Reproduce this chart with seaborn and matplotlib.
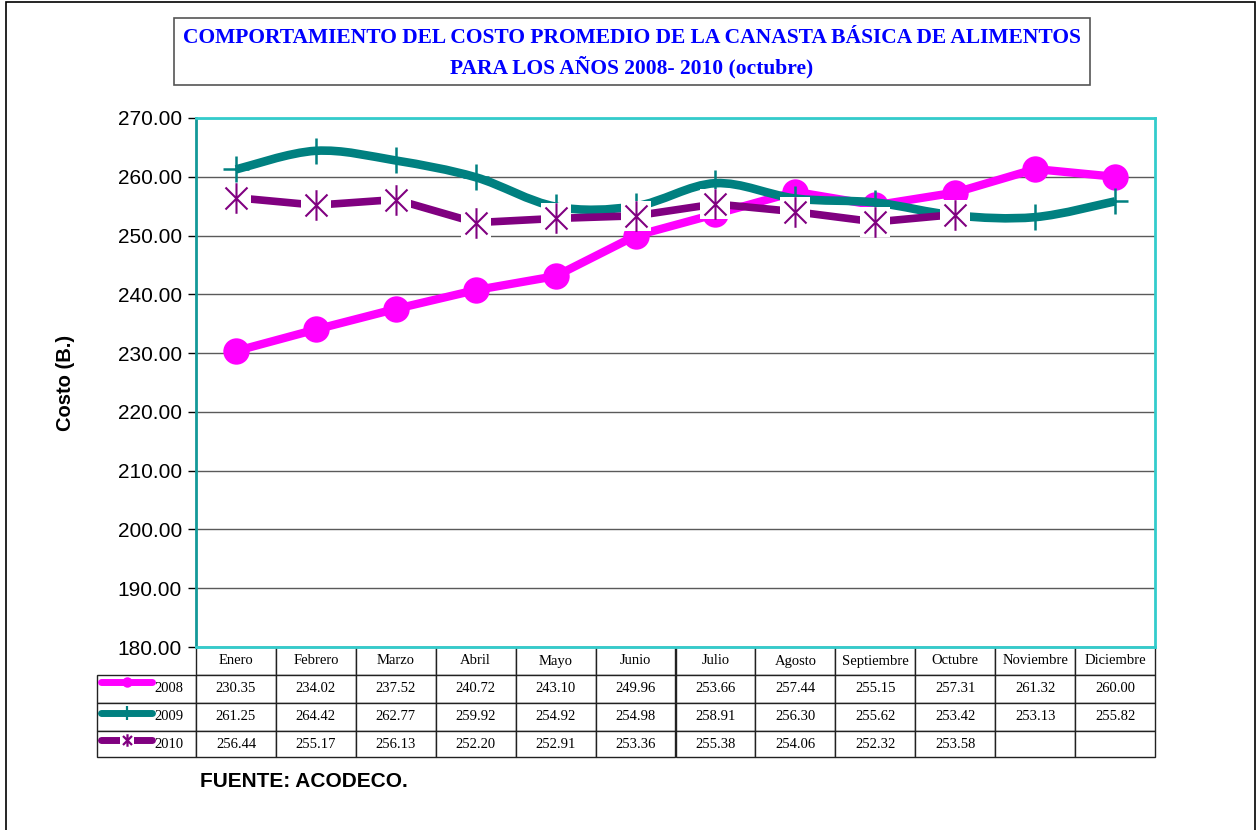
import numpy as np
import matplotlib
matplotlib.use("Agg")
import matplotlib.pyplot as plt
import seaborn as sns
from matplotlib.path import Path
from matplotlib.patches import PathPatch, Rectangle
from matplotlib.lines import Line2D
from matplotlib.table import Table

# ------------------------------------------------------------------
# DATOS (leídos de la tabla del gráfico)
# ------------------------------------------------------------------
meses = ["Enero", "Febrero", "Marzo", "Abril", "Mayo", "Junio", "Julio",
         "Agosto", "Septiembre", "Octubre", "Noviembre", "Diciembre"]
costo_2008 = [230.35, 234.02, 237.52, 240.72, 243.10, 249.96, 253.66,
              257.44, 255.15, 257.31, 261.32, 260.00]
costo_2009 = [261.25, 264.42, 262.77, 259.92, 254.92, 254.98, 258.91,
              256.30, 255.62, 253.42, 253.13, 255.82]
costo_2010 = [256.44, 255.17, 256.13, 252.20, 252.91, 253.36, 255.38,
              254.06, 252.32, 253.58]
anios = ["2008", "2009", "2010"]

C2008 = "#FF00FF"
C2009 = "#008080"
C2010 = "#800080"
SERIF = "Liberation Serif"
SANS = "Liberation Sans"

sns.set_theme(style="white")
plt.rcParams["font.family"] = [SANS, "DejaVu Sans"]
plt.rcParams.update({
    "text.color": "black",
    "axes.labelcolor": "black",
    "ytick.color": "black",
    "xtick.color": "black",
})

# marcador tipo asterisco (X con barra vertical)
asterisco = Path(
    [(0, -1), (0, 1), (-0.72, -0.72), (0.72, 0.72), (-0.72, 0.72), (0.72, -0.72)],
    [Path.MOVETO, Path.LINETO, Path.MOVETO, Path.LINETO, Path.MOVETO, Path.LINETO],
)


def curva_suave(x, y):
    """Camino Bezier suavizado (estilo Excel) que pasa por los puntos."""
    pts = np.column_stack([x, y]).astype(float)
    ext = np.vstack([pts[0], pts, pts[-1]])
    verts = [tuple(pts[0])]
    codes = [Path.MOVETO]
    for i in range(len(pts) - 1):
        p0, p1, p2, p3 = ext[i], ext[i + 1], ext[i + 2], ext[i + 3]
        c1 = p1 + (p2 - p0) / 6.0
        c2 = p2 - (p3 - p1) / 6.0
        verts += [tuple(c1), tuple(c2), tuple(p2)]
        codes += [Path.CURVE4] * 3
    return Path(verts, codes)


fig = plt.figure(figsize=(12.57, 8.30), dpi=100)
AX_W, AX_H = 959, 529
ax = fig.add_axes([196 / 1257, 1 - 647 / 830, AX_W / 1257, AX_H / 830])

x = np.arange(len(meses))
x10 = np.arange(len(costo_2010))

# 2008 - líneas rectas con círculos
sns.lineplot(x=x, y=costo_2008, ax=ax, color=C2008, linewidth=6,
             marker="o", markersize=19, markeredgewidth=0, zorder=3)

# 2009 - curva suavizada con cruces
ax.add_patch(PathPatch(curva_suave(x, costo_2009), facecolor="none",
                       edgecolor=C2009, linewidth=6.2, capstyle="butt", zorder=4))
sns.lineplot(x=x, y=costo_2009, ax=ax, color=C2009, linestyle="none",
             marker="+", markersize=19, markeredgewidth=1.8,
             markeredgecolor=C2009, zorder=4)

# 2010 - segmentos con asteriscos sobre fondo blanco
sns.lineplot(x=x10, y=costo_2010, ax=ax, color=C2010, linewidth=5.5, zorder=5)
sns.lineplot(x=x10, y=costo_2010, ax=ax, color="white", linestyle="none",
             marker="s", markersize=22, markeredgewidth=0, zorder=6)
sns.lineplot(x=x10, y=costo_2010, ax=ax, color=C2010, linestyle="none",
             marker=asterisco, markersize=22, markeredgewidth=1.5,
             markeredgecolor=C2010, zorder=7)

ax.set_xlim(-0.5, len(meses) - 0.5)
ax.set_ylim(180, 270)
ax.set_yticks(np.arange(180, 271, 10))
ax.set_yticklabels([f"{v:.2f}" for v in np.arange(180, 271, 10)], fontsize=15)
ax.set_xticks([])
ax.tick_params(axis="y", length=6, width=1, color="black", direction="out",
               left=True, pad=4)
ax.yaxis.grid(True, color="#5a5a5a", linewidth=1)
ax.set_axisbelow(True)
for lado in ["top", "right", "bottom"]:
    ax.spines[lado].set_color("#33CCCC")
    ax.spines[lado].set_linewidth(2)
ax.spines["left"].set_color("#139999")
ax.spines["left"].set_linewidth(2)
ax.set_ylabel("Costo (B.)", fontsize=14.5, fontweight="bold")
ax.yaxis.set_label_coords((75 - 196) / AX_W, 0.5)

# ------------------------------------------------------------------
# TABLA DE DATOS (unidades de ejes)
# ------------------------------------------------------------------
col_w = 1 / 12
lab_w = 99 / AX_W
alturas = [28 / AX_H, 28 / AX_H, 28 / AX_H, 26 / AX_H]
filas = [costo_2008, costo_2009, costo_2010]
tabla = Table(ax, bbox=[0, -sum(alturas), 1, sum(alturas)])
for j, mes in enumerate(meses):
    tabla.add_cell(0, j, width=col_w, height=alturas[0], text=mes, loc="center")
for i, (anio, valores) in enumerate(zip(anios, filas), start=1):
    tabla.add_cell(i, -1, width=lab_w, height=alturas[i], text=anio, loc="right")
    for j in range(len(meses)):
        txt = f"{valores[j]:.2f}" if j < len(valores) else ""
        tabla.add_cell(i, j, width=col_w, height=alturas[i], text=txt, loc="center")
tabla.auto_set_font_size(False)
tabla.set_fontsize(10.5)
for (r, c), celda in tabla.get_celld().items():
    celda.set_edgecolor("#222222")
    celda.set_linewidth(1)
    celda.set_clip_on(False)
    celda.get_text().set_fontfamily(SERIF)
    celda.get_text().set_color("black")
    if c == -1:
        celda.PAD = 0.13
ax.add_table(tabla)

# claves de leyenda dentro de la tabla
claves = [(C2008, "o", 7.5, 0), (C2009, "|", 10, 1.6), (C2010, asterisco, 9, 1.6)]
for (color, mk, ms, mew), yk in zip(claves, [682, 713, 740]):
    yk_ax = (647 - yk) / AX_H
    ax.add_line(Line2D([(101 - 196) / AX_W, (152 - 196) / AX_W], [yk_ax, yk_ax],
                       transform=ax.transAxes, color=color, linewidth=5,
                       solid_capstyle="round", clip_on=False, zorder=8))
    if mk is asterisco:
        ax.add_line(Line2D([(127 - 196) / AX_W], [yk_ax], transform=ax.transAxes,
                           color="white", marker="s", markersize=10,
                           markeredgewidth=0, linestyle="none", clip_on=False,
                           zorder=9))
    ax.add_line(Line2D([(127 - 196) / AX_W], [yk_ax], transform=ax.transAxes,
                       color=color, marker=mk, markersize=ms, markeredgewidth=mew,
                       markeredgecolor=color, linestyle="none", clip_on=False,
                       zorder=10))

# ------------------------------------------------------------------
# TÍTULO, FUENTE Y MARCO
# ------------------------------------------------------------------
fig.patches.append(Rectangle((174 / 1257, 1 - 85 / 830), 916 / 1257, 67 / 830,
                             transform=fig.transFigure, fill=False,
                             edgecolor="#555555", linewidth=1.2))
fig.text(632 / 1257, 1 - 38 / 830,
         "COMPORTAMIENTO DEL COSTO PROMEDIO DE LA CANASTA BÁSICA DE ALIMENTOS",
         ha="center", va="center", color="#0000FF", fontsize=15.5,
         fontweight="bold", family=[SERIF, "DejaVu Serif"])
fig.text(632 / 1257, 1 - 67 / 830, "PARA LOS AÑOS 2008- 2010 (octubre)",
         ha="center", va="center", color="#0000FF", fontsize=15.5,
         fontweight="bold", family=[SERIF, "DejaVu Serif"])
fig.text(200 / 1257, 1 - 781 / 830, "FUENTE: ACODECO.", ha="left", va="center",
         fontsize=15, fontweight="bold")
fig.patches.append(Rectangle((6 / 1257, -0.01), 1249 / 1257, 1.01 - 2 / 830,
                             transform=fig.transFigure, fill=False,
                             edgecolor="black", linewidth=1.2))

fig.savefig("out.png", dpi=100)
